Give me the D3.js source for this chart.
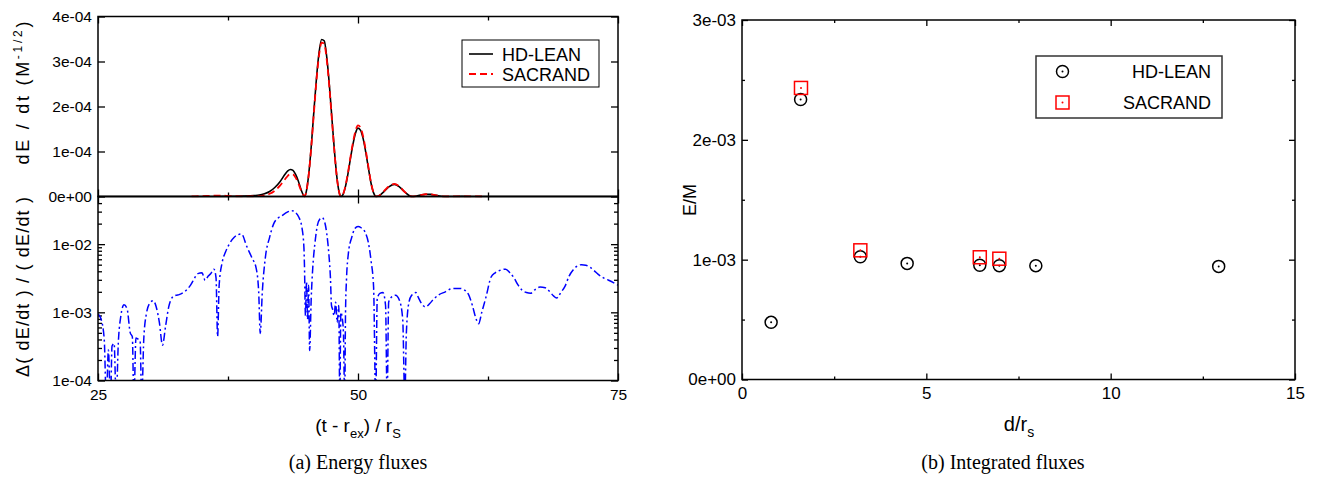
<!DOCTYPE html>
<html lang="en">
<head>
<meta charset="UTF-8">
<title>Energy fluxes / Integrated fluxes</title>
<script src="https://d3js.org/d3.v7.min.js"></script>
<style>
    body {margin: 0; background: #fff;}
    text {font-family: "Liberation Sans", Arial, sans-serif; fill: #000;}
    .cap {font-family: "Liberation Serif", "Times New Roman", serif;}
    .tk text {font-size: 15.5px;}
    .tkR text {font-size: 17px;}
</style>
</head>
<body>
<svg id="fig" width="1320" height="482"></svg>
<script>

    // ---- (a) top: dE/dt ----
    var tHD = [25, 30, 34, 35, 36, 37, 37.5, 38, 39, 40, 40.5, 41, 41.5, 42, 42.5, 43, 43.25, 43.5, 43.75, 44, 44.25, 44.5, 44.75, 44.85,
        45, 45.25, 45.5, 45.75, 46, 46.25, 46.5, 46.75, 47, 47.25, 47.5, 47.75, 48, 48.25, 48.37,
        48.5, 48.75, 49, 49.25, 49.5, 49.75, 50, 50.25, 50.5, 50.75, 51, 51.25, 51.5, 51.75,
        52, 52.5, 53, 53.5, 54, 54.5, 55, 55.2, 55.5, 56, 56.5, 57, 57.5, 58, 58.5, 60, 62, 65, 75];
    var hdLean = [0, 0, 0, 0, 0, 0.002e-4, 0.003e-4, 0.005e-4, 0.01e-4, 0.02e-4, 0.03e-4, 0.06e-4, 0.11e-4, 0.2e-4, 0.33e-4, 0.5e-4, 0.57e-4, 0.6e-4, 0.58e-4, 0.49e-4, 0.35e-4, 0.17e-4, 0.03e-4, 0,
        0.08e-4, 0.47e-4, 1.1e-4, 1.87e-4, 2.61e-4, 3.19e-4, 3.49e-4, 3.46e-4, 3.09e-4, 2.47e-4, 1.71e-4, 0.97e-4, 0.37e-4, 0.04e-4, 0,
        0.02e-4, 0.18e-4, 0.46e-4, 0.81e-4, 1.14e-4, 1.4e-4, 1.52e-4, 1.47e-4, 1.28e-4, 0.98e-4, 0.63e-4, 0.3e-4, 0.08e-4, 0,
        0.014e-4, 0.11e-4, 0.22e-4, 0.27e-4, 0.21e-4, 0.1e-4, 0.01e-4, 0, 0.005e-4, 0.03e-4, 0.05e-4, 0.048e-4, 0.025e-4, 0.005e-4, 0, 0.003e-4, 0, 0, 0];

    var tSac = [34, 35, 36, 37, 37.5, 38, 39, 40, 40.5, 41, 41.5, 42, 42.5, 43, 43.25, 43.5, 43.75, 44, 44.25, 44.5, 44.75, 44.85,
        45, 45.25, 45.5, 45.75, 46, 46.25, 46.5, 46.75, 47, 47.25, 47.5, 47.75, 48, 48.25, 48.37,
        48.5, 48.75, 49, 49.25, 49.5, 49.75, 50, 50.25, 50.5, 50.75, 51, 51.25, 51.5, 51.75,
        52, 52.5, 53, 53.5, 54, 54.5, 55, 55.2, 55.5, 56, 56.5, 57, 57.5, 58, 58.5, 60, 62];
    var sacrand = [0.003e-4, 0.008e-4, 0.018e-4, 0.02e-4, 0.012e-4, 0.006e-4, 0.004e-4, 0.006e-4, 0.01e-4, 0.025e-4, 0.06e-4, 0.13e-4, 0.24e-4, 0.39e-4, 0.46e-4, 0.5e-4, 0.49e-4, 0.42e-4, 0.3e-4, 0.15e-4, 0.03e-4, 0,
        0.08e-4, 0.46e-4, 1.08e-4, 1.83e-4, 2.56e-4, 3.13e-4, 3.42e-4, 3.39e-4, 3.03e-4, 2.42e-4, 1.68e-4, 0.95e-4, 0.36e-4, 0.04e-4, 0,
        0.02e-4, 0.19e-4, 0.48e-4, 0.84e-4, 1.18e-4, 1.45e-4, 1.58e-4, 1.53e-4, 1.33e-4, 1.02e-4, 0.66e-4, 0.31e-4, 0.08e-4, 0,
        0.015e-4, 0.12e-4, 0.23e-4, 0.28e-4, 0.22e-4, 0.1e-4, 0.01e-4, 0, 0.005e-4, 0.03e-4, 0.05e-4, 0.048e-4, 0.025e-4, 0.005e-4, 0, 0.003e-4, 0];

    // ---- (a) bottom: relative difference (values below 1e-4 fall off the panel) ----
    var tRel = [25, 25.3, 25.6, 25.8, 26, 26.2, 26.35, 26.55, 26.75, 26.95, 27.2, 27.5, 27.8, 28.1, 28.3, 28.45, 28.65, 28.9, 29.05, 29.2, 29.4, 29.65,
        30, 30.3, 30.6, 30.9, 31.2, 31.5, 31.8, 32.15, 32.5, 32.8, 33.3, 33.9, 34.3, 34.6, 35, 35.3, 35.6, 35.85, 36.15, 36.35, 36.5, 36.65, 36.95,
        37.25, 37.7, 38.1, 38.5, 38.8, 39.3, 39.8, 40.2, 40.45, 40.6, 40.8, 41.1, 41.5, 41.9, 42.3, 42.7, 43.2, 43.65, 44, 44.3, 44.6, 44.8,
        44.85, 44.95, 45.05, 45.15, 45.25, 45.35, 45.5, 45.65, 45.85, 46.1, 46.35, 46.55, 46.8, 47, 47.2, 47.35, 47.45, 47.55, 47.7, 47.85,
        48, 48.15, 48.25, 48.35, 48.5, 48.6, 48.72, 48.8, 48.9, 49.07, 49.4, 49.7, 50, 50.3, 50.7, 51, 51.25, 51.5, 51.7, 51.85, 52.1, 52.4,
        52.65, 52.8, 52.95, 53.2, 53.6, 54, 54.3, 54.5, 54.65, 54.9, 55.16, 55.56, 55.8, 56.1, 56.5, 56.9, 57.3, 57.8, 58.4, 58.9, 59.3, 59.8,
        60.2, 60.6, 61, 61.3, 61.6, 61.9, 62.3, 62.8, 63.2, 63.6, 64.2, 64.6, 65, 65.4, 65.8, 66.2, 66.6, 67, 67.5, 68, 68.4, 68.8, 69.1,
        69.5, 69.9, 70.3, 70.7, 71.1, 71.5, 71.9, 72.3, 72.7, 73.1, 73.6, 74.1, 74.6, 75];
    var relDiff = [9.5e-4, 7.9e-4, 4.0e-4, 5e-5, 2.8e-4, 5e-5, 3.2e-4, 3.5e-4, 5e-5, 3.5e-4, 8.9e-4, 1.29e-3, 1.12e-3, 5.0e-4, 4.4e-4, 5e-5, 4.2e-4, 4.0e-4, 3.8e-4, 5e-5, 4.0e-4, 9.5e-4,
        1.38e-3, 1.48e-3, 1.2e-3, 7.1e-4, 3.3e-4, 6.3e-4, 1.2e-3, 1.66e-3, 1.78e-3, 1.82e-3, 2.0e-3, 2.5e-3, 3.2e-3, 3.7e-3, 3.8e-3, 2.95e-3, 3.4e-3, 3.7e-3, 4.3e-3, 3.2e-3, 4.4e-4, 2.5e-3, 5.5e-3,
        7.6e-3, 1.05e-2, 1.26e-2, 1.38e-2, 1.41e-2, 9.3e-3, 6.3e-3, 4.5e-3, 2.0e-3, 4.9e-4, 2.0e-3, 6.5e-3, 1.26e-2, 2.0e-2, 2.4e-2, 2.63e-2, 2.95e-2, 3.1e-2, 2.9e-2, 2.5e-2, 1.78e-2, 8.9e-3,
        5.0e-3, 8.9e-4, 2.8e-3, 7.9e-4, 2.5e-3, 2.75e-4, 1.58e-3, 4.5e-3, 1.0e-2, 1.9e-2, 2.35e-2, 2.45e-2, 2.1e-2, 1.41e-2, 7.1e-3, 3.2e-3, 1.26e-3, 1.12e-3, 8.9e-4, 1.41e-3,
        7.1e-4, 1.26e-3, 5e-5, 1.0e-3, 7.9e-4, 5.0e-4, 5e-5, 1.0e-3, 3.2e-3, 7.2e-3, 1.26e-2, 1.7e-2, 1.82e-2, 1.74e-2, 1.48e-2, 1.05e-2, 5.8e-3, 2.35e-3, 5e-5, 1.58e-3, 1.9e-3, 1.95e-3,
        1.26e-3, 5e-5, 1.41e-3, 1.66e-3, 1.78e-3, 1.48e-3, 7.9e-4, 5e-5, 5.0e-4, 1.41e-3, 1.78e-3, 1.95e-3, 1.66e-3, 1.35e-3, 1.2e-3, 1.35e-3, 1.58e-3, 1.82e-3, 2.0e-3, 2.2e-3, 2.24e-3, 2.24e-3,
        2.14e-3, 1.86e-3, 1.26e-3, 8.5e-4, 6.8e-4, 1.0e-3, 1.66e-3, 3.3e-3, 3.8e-3, 4.1e-3, 4.3e-3, 3.8e-3, 3.2e-3, 2.5e-3, 2.1e-3, 1.95e-3, 1.9e-3, 2.14e-3, 2.35e-3, 2.3e-3, 2.04e-3, 1.74e-3, 1.62e-3,
        1.95e-3, 2.4e-3, 3.4e-3, 4.2e-3, 4.8e-3, 5.0e-3, 4.9e-3, 4.6e-3, 4.1e-3, 3.6e-3, 3.2e-3, 2.95e-3, 2.7e-3, 2.5e-3];

    // ---- (b) integrated fluxes ----
    var hdDist = [0.79, 1.59, 3.21, 4.48, 6.45, 6.98, 7.97, 12.93];
    var hdE = [0.477e-3, 2.336e-3, 1.025e-3, 0.969e-3, 0.953e-3, 0.95e-3, 0.95e-3, 0.944e-3];
    var sacDist = [1.6, 3.21, 6.45, 6.98];
    var sacE = [2.433e-3, 1.078e-3, 1.02e-3, 1.008e-3];

    var xTicksA = [25, 50, 75], xMinorA = [37.5, 62.5];
    var yTicksTop = [0, 1e-4, 2e-4, 3e-4, 4e-4];
    var yTicksLog = [1e-4, 1e-3, 1e-2];
    var yMinorLog = [2e-4, 3e-4, 4e-4, 5e-4, 6e-4, 7e-4, 8e-4, 9e-4, 2e-3, 3e-3, 4e-3, 5e-3, 6e-3, 7e-3, 8e-3, 9e-3, 2e-2, 3e-2, 4e-2];
    var xTicksB = [0, 5, 10, 15], xMinorB = [2.5, 7.5, 12.5];
    var yTicksB = [0, 1e-3, 2e-3, 3e-3], yMinorB = [0.5e-3, 1.5e-3, 2.5e-3];

    var svg = d3.select("#fig");

    function expFmt(v) {
        if (v === 0) return "0e+00";
        var e = Math.floor(Math.log10(v) + 1e-9), m = Math.round(v / Math.pow(10, e));
        return m + "e" + (e < 0 ? "-" : "+") + String(Math.abs(e)).padStart(2, "0");
    }

    // inward ticks, no domain line (frames are drawn as rects)
    function ticks(cls, pos, axis, vals, size, fmt, pad) {
        var g = svg.append("g").attr("class", cls).attr("transform", pos)
            .call(axis.tickValues(vals).tickSizeInner(-size).tickSizeOuter(0).tickPadding(pad || 0).tickFormat(fmt || ""));
        g.select(".domain").remove();
        g.selectAll(".tick line").attr("stroke", "#000").attr("stroke-width", 1.3);
        return g;
    }

    // ===== panel (a) =====
    var L = 98, R = 618, T = 16.5, M = 196.5, B = 380.5;
    var x = d3.scaleLinear().domain([25, 75]).range([L, R]);
    var yTop = d3.scaleLinear().domain([0, 4e-4]).range([M, T]);
    var yBot = d3.scaleLog().domain([1e-4, 5e-2]).range([B, M]);

    svg.append("clipPath").attr("id", "cTop").append("rect").attr("x", L).attr("y", T - 4).attr("width", R - L).attr("height", M - T + 5);
    svg.append("clipPath").attr("id", "cBot").append("rect").attr("x", L).attr("y", M).attr("width", R - L).attr("height", B - M);

    // top panel axes
    ticks("tk", "translate(" + L + ",0)", d3.axisLeft(yTop), yTicksTop, 7, expFmt, 6);
    ticks("tk", "translate(" + R + ",0)", d3.axisRight(yTop), yTicksTop, 7);
    ticks("tk", "translate(0," + T + ")", d3.axisTop(x), xTicksA, 7);
    ticks("tk", "translate(0," + T + ")", d3.axisTop(x), xMinorA, 4);
    ticks("tk", "translate(0," + M + ")", d3.axisBottom(x), xTicksA, 7);
    ticks("tk", "translate(0," + M + ")", d3.axisBottom(x), xMinorA, 4);

    // bottom panel axes
    ticks("tk", "translate(" + L + ",0)", d3.axisLeft(yBot), yTicksLog, 7, expFmt, 6);
    ticks("tk", "translate(" + L + ",0)", d3.axisLeft(yBot), yMinorLog, 4);
    ticks("tk", "translate(" + R + ",0)", d3.axisRight(yBot), yTicksLog, 7);
    ticks("tk", "translate(" + R + ",0)", d3.axisRight(yBot), yMinorLog, 4);
    ticks("tk", "translate(0," + M + ")", d3.axisTop(x), xTicksA, 7);
    ticks("tk", "translate(0," + M + ")", d3.axisTop(x), xMinorA, 4);
    ticks("tk", "translate(0," + B + ")", d3.axisBottom(x), xTicksA, 7, d3.format("d"), 8);
    ticks("tk", "translate(0," + B + ")", d3.axisBottom(x), xMinorA, 4);

    var smooth = d3.line().curve(d3.curveMonotoneX);

    svg.append("path")
        .attr("clip-path", "url(#cTop)")
        .attr("d", smooth(tHD.map(function(t, i) {return [x(t), yTop(hdLean[i])]})))
        .attr("fill", "none").attr("stroke", "#000").attr("stroke-width", 1.6);

    svg.append("path")
        .attr("clip-path", "url(#cTop)")
        .attr("d", smooth(tSac.map(function(t, i) {return [x(t), yTop(sacrand[i])]})))
        .attr("fill", "none").attr("stroke", "#ff0000").attr("stroke-width", 1.8).attr("stroke-dasharray", "7,4");

    svg.append("path")
        .attr("clip-path", "url(#cBot)")
        .attr("d", smooth(tRel.map(function(t, i) {return [x(t), yBot(relDiff[i])]})))
        .attr("fill", "none").attr("stroke", "#0000ff").attr("stroke-width", 1.5).attr("stroke-dasharray", "8,3,2,3");

    // frames
    svg.append("rect").attr("x", L).attr("y", T).attr("width", R - L).attr("height", M - T)
        .attr("fill", "none").attr("stroke", "#000").attr("stroke-width", 1.5);
    svg.append("rect").attr("x", L).attr("y", M).attr("width", R - L).attr("height", B - M)
        .attr("fill", "none").attr("stroke", "#000").attr("stroke-width", 1.5);

    // legend (a)
    var lgA = svg.append("g").attr("transform", "translate(462,40)");
    lgA.append("rect").attr("width", 137).attr("height", 47).attr("fill", "#fff").attr("stroke", "#000").attr("stroke-width", 1);
    lgA.append("line").attr("x1", 7).attr("x2", 31).attr("y1", 14).attr("y2", 14).attr("stroke", "#000").attr("stroke-width", 1.6);
    lgA.append("line").attr("x1", 7).attr("x2", 31).attr("y1", 34).attr("y2", 34).attr("stroke", "#ff0000").attr("stroke-width", 1.8).attr("stroke-dasharray", "7,4");
    lgA.append("text").attr("x", 40).attr("y", 20.5).style("font-size", "18px").text("HD-LEAN");
    lgA.append("text").attr("x", 40).attr("y", 40.5).style("font-size", "18px").text("SACRAND");

    // titles (a)
    var t1 = svg.append("text").attr("transform", "translate(29,93) rotate(-90)").attr("text-anchor", "middle")
        .style("font-size", "18px").attr("textLength", 143).attr("lengthAdjust", "spacing");
    t1.append("tspan").text("dE / dt (M");
    t1.append("tspan").attr("dy", -7).style("font-size", "12px").text("-1/2");
    t1.append("tspan").attr("dy", 7).text(")");

    svg.append("text").attr("transform", "translate(29,287) rotate(-90)").attr("text-anchor", "middle")
        .style("font-size", "18px").attr("textLength", 180).attr("lengthAdjust", "spacing")
        .text("\u0394( dE/dt ) / ( dE/dt )");

    var t2 = svg.append("text").attr("x", 358).attr("y", 432).attr("text-anchor", "middle").style("font-size", "19px");
    t2.append("tspan").text("(t - r");
    t2.append("tspan").attr("dy", 6).style("font-size", "13px").text("ex");
    t2.append("tspan").attr("dy", -6).text(") / r");
    t2.append("tspan").attr("dy", 6).style("font-size", "13px").text("S");

    svg.append("text").attr("class", "cap").attr("x", 358).attr("y", 469).attr("text-anchor", "middle")
        .style("font-size", "20px").text("(a) Energy fluxes");

    // ===== panel (b) =====
    var xR = d3.scaleLinear().domain([0, 15]).range([742, 1295]);
    var yR = d3.scaleLinear().domain([0, 3e-3]).range([379.5, 20]);

    ticks("tkR", "translate(742,0)", d3.axisLeft(yR), yTicksB, 6, expFmt, 6);
    ticks("tkR", "translate(742,0)", d3.axisLeft(yR), yMinorB, 3);
    ticks("tkR", "translate(1295,0)", d3.axisRight(yR), yTicksB, 6);
    ticks("tkR", "translate(1295,0)", d3.axisRight(yR), yMinorB, 3);
    ticks("tkR", "translate(0,379.5)", d3.axisBottom(xR), xTicksB, 6, d3.format("d"), 7);
    ticks("tkR", "translate(0,379.5)", d3.axisBottom(xR), xMinorB, 3);
    ticks("tkR", "translate(0,20)", d3.axisTop(xR), xTicksB, 6);
    ticks("tkR", "translate(0,20)", d3.axisTop(xR), xMinorB, 3);

    svg.append("rect").attr("x", 742).attr("y", 20).attr("width", 553).attr("height", 359.5)
        .attr("fill", "none").attr("stroke", "#000").attr("stroke-width", 1.5);

    function circleMark(g, cx, cy) {
        g.append("circle").attr("cx", cx).attr("cy", cy).attr("r", 6).attr("fill", "none").attr("stroke", "#000").attr("stroke-width", 1.5);
        g.append("circle").attr("cx", cx).attr("cy", cy).attr("r", 1).attr("fill", "#000");
    }
    function squareMark(g, cx, cy) {
        g.append("rect").attr("x", cx - 6.5).attr("y", cy - 6.5).attr("width", 13).attr("height", 13).attr("fill", "none").attr("stroke", "#ff0000").attr("stroke-width", 1.5);
        g.append("circle").attr("cx", cx).attr("cy", cy).attr("r", 1).attr("fill", "#ff0000");
    }

    var pts = svg.append("g");
    hdDist.forEach(function(d, i) {circleMark(pts, xR(d), yR(hdE[i]))});
    sacDist.forEach(function(d, i) {squareMark(pts, xR(d), yR(sacE[i]))});

    // legend (b)
    var lgB = svg.append("g").attr("transform", "translate(1036,56)");
    lgB.append("rect").attr("width", 186).attr("height", 62).attr("fill", "#fff").attr("stroke", "#333").attr("stroke-width", 1.5);
    circleMark(lgB, 26.5, 15.5);
    squareMark(lgB, 26.5, 46.5);
    lgB.append("text").attr("x", 175).attr("y", 22).attr("text-anchor", "end").style("font-size", "18px").text("HD-LEAN");
    lgB.append("text").attr("x", 175).attr("y", 53).attr("text-anchor", "end").style("font-size", "18px").text("SACRAND");

    svg.append("text").attr("transform", "translate(696,200) rotate(-90)").attr("text-anchor", "middle")
        .style("font-size", "18px").text("E/M");

    var t3 = svg.append("text").attr("x", 1019).attr("y", 431).attr("text-anchor", "middle").style("font-size", "20px");
    t3.append("tspan").text("d/r");
    t3.append("tspan").attr("dy", 6).style("font-size", "14px").text("s");

    svg.append("text").attr("class", "cap").attr("x", 1003).attr("y", 469).attr("text-anchor", "middle")
        .style("font-size", "20px").text("(b) Integrated fluxes");

</script>
</body>
</html>
